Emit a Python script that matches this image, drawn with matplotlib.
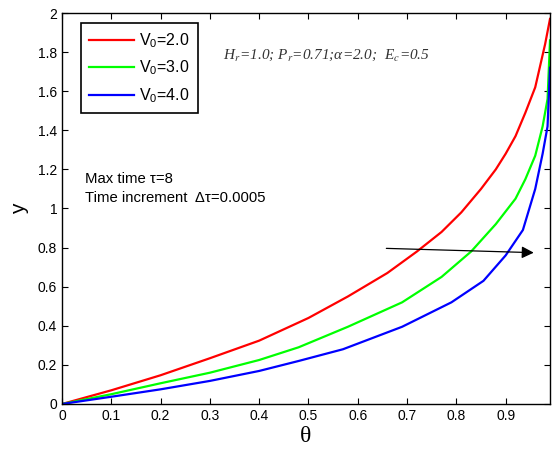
import matplotlib
matplotlib.use('Agg')
import matplotlib.pyplot as plt

plt.rcParams['font.family'] = ['Liberation Sans', 'DejaVu Sans']
plt.rcParams['mathtext.fontset'] = 'custom'
plt.rcParams['mathtext.rm'] = 'Liberation Sans'
plt.rcParams['mathtext.it'] = 'Liberation Sans:italic'

# curves
x_v2 = [0, 0.1, 0.2, 0.3, 0.4, 0.5, 0.58, 0.66, 0.72, 0.77, 0.81, 0.85, 0.88, 0.9, 0.92, 0.94, 0.96, 0.98, 0.99]
y_v2 = [0, 0.07, 0.147, 0.234, 0.324, 0.44, 0.55, 0.67, 0.78, 0.88, 0.98, 1.1, 1.2, 1.28, 1.37, 1.49, 1.62, 1.84, 1.97]

x_v3 = [0, 0.1, 0.2, 0.3, 0.4, 0.48, 0.58, 0.69, 0.77, 0.83, 0.88, 0.92, 0.94, 0.96, 0.975, 0.985, 0.99]
y_v3 = [0, 0.05, 0.106, 0.16, 0.225, 0.29, 0.395, 0.52, 0.65, 0.78, 0.92, 1.05, 1.15, 1.27, 1.42, 1.56, 1.86]

x_v4 = [0, 0.1, 0.2, 0.3, 0.4, 0.48, 0.57, 0.69, 0.79, 0.855, 0.9, 0.935, 0.96, 0.975, 0.985, 0.99]
y_v4 = [0, 0.037, 0.075, 0.118, 0.169, 0.22, 0.28, 0.395, 0.52, 0.63, 0.76, 0.89, 1.1, 1.28, 1.42, 1.72]

labels = ['V$_0$=2.0', 'V$_0$=3.0', 'V$_0$=4.0']
colors = ['#ff0000', '#00ff00', '#0000ff']
xticks = [0, 0.1, 0.2, 0.3, 0.4, 0.5, 0.6, 0.7, 0.8, 0.9]
yticks = [0, 0.2, 0.4, 0.6, 0.8, 1, 1.2, 1.4, 1.6, 1.8, 2]

fig = plt.figure(figsize=(5.52, 4.53), dpi=100)
ax = fig.add_axes([0.1123, 0.1082, 0.8841, 0.8631])

for xs, ys, lab, c in zip([x_v2, x_v3, x_v4], [y_v2, y_v3, y_v4], labels, colors):
    ax.plot(xs, ys, color=c, lw=1.6, label=lab)

ax.set_xlim(0, 0.99)
ax.set_ylim(0, 2)
ax.set_xticks(xticks)
ax.set_xticklabels(['0'] + [str(t) for t in xticks[1:]])
ax.set_yticks(yticks)
ax.set_yticklabels([('%g' % t) for t in yticks])
ax.tick_params(direction='in', length=4, width=0.8, top=True, right=True, labelsize=10)
for s in ax.spines.values():
    s.set_linewidth(1.0)

ax.set_xlabel('θ', family='Liberation Serif', fontsize=17, labelpad=2)
ax.set_ylabel('y', fontsize=15, labelpad=6)

leg = ax.legend(loc='upper left', bbox_to_anchor=(0.039, 0.974), borderaxespad=0,
                fontsize=11.5, handlelength=2.8, handletextpad=0.35, labelspacing=0.55,
                borderpad=0.5, fancybox=False, framealpha=1)
leg.get_frame().set_edgecolor('black')
leg.get_frame().set_linewidth(1.2)

ax.text(0.327, 1.785, 'H$_r$=1.0; P$_r$=0.71;α=2.0;  E$_c$=0.5',
        family='Liberation Serif', style='italic', math_fontfamily='stix',
        fontsize=11, color='#333333', va='center')
ax.text(0.047, 1.15, 'Max time τ=8', fontsize=10.7, va='center')
ax.text(0.047, 1.052, 'Time increment  Δτ=0.0005', fontsize=10.7, va='center')

ax.annotate('', xy=(0.957, 0.774), xytext=(0.658, 0.796),
            arrowprops=dict(arrowstyle='-|>', color='black', lw=0.9, mutation_scale=18,
                            shrinkA=0, shrinkB=0))

fig.savefig('out.png', dpi=100)
